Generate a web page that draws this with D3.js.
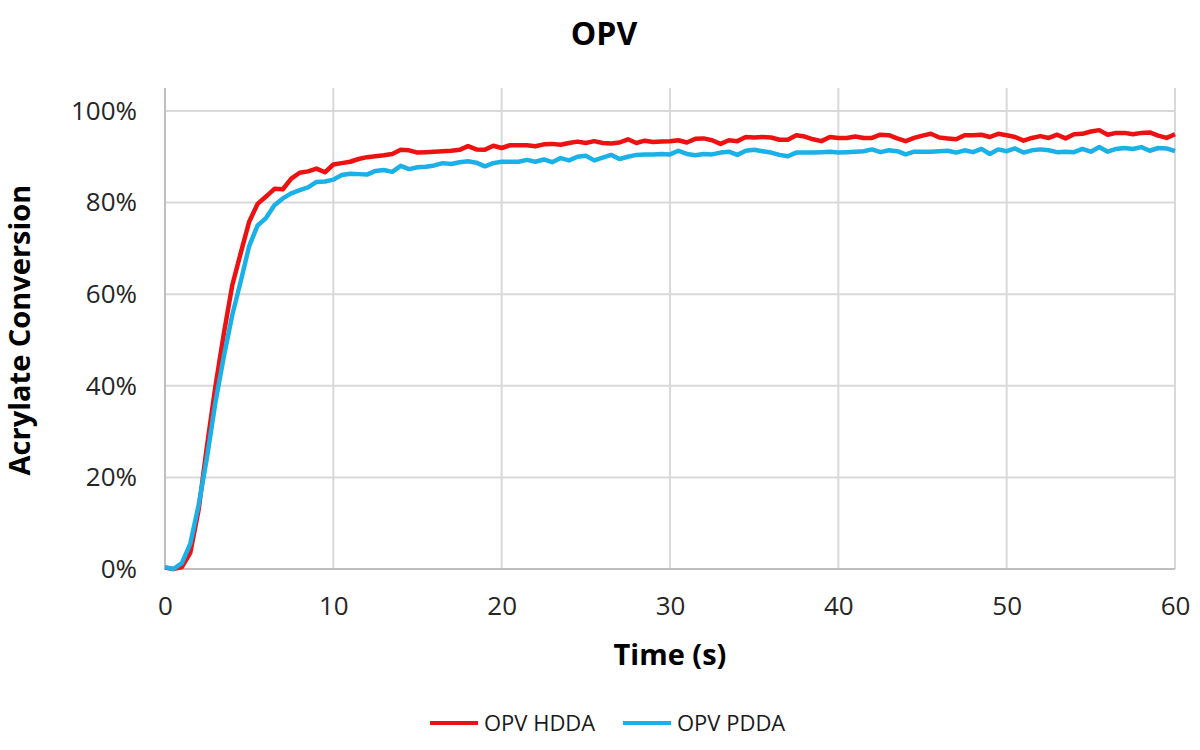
<!DOCTYPE html>
<html>
<head>
<meta charset="utf-8">
<script src="https://cdn.jsdelivr.net/npm/d3@7/dist/d3.min.js"></script>
<style>
  html, body { margin: 0; padding: 0; background: #ffffff; }
  svg { display: block; font-family: "Open Sans", "Noto Sans", sans-serif; }
</style>
</head>
<body>
<svg id="chart" width="1200" height="750"></svg>
<script>
// ---- data ----
const chartTitle = "OPV";
const xTitle = "Time (s)";
const yTitle = "Acrylate Conversion";
const seriesNames = ["OPV HDDA", "OPV PDDA"];
const seriesColors = ["#ee1111", "#1ab0e8"];

const timeS = [
  0, 0.5, 1, 1.5, 2, 2.5, 3, 3.5, 4, 4.5,
  5, 5.5, 6, 6.5, 7, 7.5, 8, 8.5, 9, 9.5,
  10, 10.5, 11, 11.5, 12, 12.5, 13, 13.5, 14, 14.5,
  15, 15.5, 16, 16.5, 17, 17.5, 18, 18.5, 19, 19.5,
  20, 20.5, 21, 21.5, 22, 22.5, 23, 23.5, 24, 24.5,
  25, 25.5, 26, 26.5, 27, 27.5, 28, 28.5, 29, 29.5,
  30, 30.5, 31, 31.5, 32, 32.5, 33, 33.5, 34, 34.5,
  35, 35.5, 36, 36.5, 37, 37.5, 38, 38.5, 39, 39.5,
  40, 40.5, 41, 41.5, 42, 42.5, 43, 43.5, 44, 44.5,
  45, 45.5, 46, 46.5, 47, 47.5, 48, 48.5, 49, 49.5,
  50, 50.5, 51, 51.5, 52, 52.5, 53, 53.5, 54, 54.5,
  55, 55.5, 56, 56.5, 57, 57.5, 58, 58.5, 59, 59.5,
  60
];

// percent conversion
const hddaPct = [
  0.3, 0.0, 0.4, 3.5, 13.0, 27.0, 40.0, 51.5, 62.0, 69.0,
  75.8, 79.7, 81.3, 83.0, 82.9, 85.2, 86.5, 86.8, 87.4, 86.6,
  88.3, 88.6, 88.9, 89.5, 89.9, 90.1, 90.3, 90.6, 91.5, 91.4,
  90.9, 91.0, 91.1, 91.2, 91.3, 91.5, 92.3, 91.6, 91.5, 92.4,
  91.9, 92.5, 92.5, 92.5, 92.3, 92.7, 92.8, 92.6, 93.0, 93.3,
  93.0, 93.4, 93.0, 92.9, 93.1, 93.8, 93.0, 93.5, 93.2, 93.3,
  93.4, 93.6, 93.1, 93.9, 94.0, 93.6, 92.8, 93.6, 93.4, 94.3,
  94.2, 94.3, 94.2, 93.7, 93.7, 94.7, 94.4, 93.8, 93.4, 94.3,
  94.1, 94.1, 94.4, 94.1, 94.1, 94.8, 94.7, 94.0, 93.4, 94.1,
  94.6, 95.0, 94.2, 94.0, 93.8, 94.7, 94.7, 94.8, 94.3, 95.0,
  94.7, 94.3, 93.5, 94.1, 94.5, 94.1, 94.8, 94.0, 94.9, 95.0,
  95.5, 95.8, 94.8, 95.2, 95.2, 94.9, 95.2, 95.3, 94.6, 94.1,
  94.9
];

const pddaPct = [
  0.4, 0.0, 1.3, 5.5, 14.0, 24.5, 36.5, 46.5, 55.5, 62.8,
  70.5, 75.0, 76.6, 79.4, 80.9, 82.0, 82.7, 83.3, 84.5, 84.6,
  85.0, 86.0, 86.3, 86.2, 86.1, 86.9, 87.1, 86.7, 88.0, 87.3,
  87.7, 87.8, 88.1, 88.6, 88.4, 88.8, 89.0, 88.7, 87.9, 88.6,
  88.9, 88.9, 88.9, 89.3, 88.9, 89.4, 88.8, 89.7, 89.2, 90.0,
  90.2, 89.2, 89.8, 90.4, 89.5, 90.0, 90.4, 90.5, 90.5, 90.6,
  90.5, 91.3, 90.6, 90.3, 90.6, 90.5, 90.9, 91.1, 90.4, 91.3,
  91.5, 91.2, 90.9, 90.4, 90.1, 90.9, 90.9, 90.9, 91.0, 91.1,
  90.9, 91.0, 91.1, 91.2, 91.6, 91.0, 91.4, 91.2, 90.5, 91.1,
  91.1, 91.1, 91.2, 91.3, 90.9, 91.4, 91.0, 91.7, 90.6, 91.6,
  91.2, 91.8, 90.9, 91.4, 91.6, 91.4, 91.0, 91.1, 91.0, 91.7,
  91.1, 92.1, 91.1, 91.7, 91.9, 91.7, 92.1, 91.3, 91.9, 91.8,
  91.2
];

const xTicks = [0, 10, 20, 30, 40, 50, 60];
const yTicks = [0, 0.2, 0.4, 0.6, 0.8, 1.0];

// ---- layout ----
const svg = d3.select("#chart");
const plot = { left: 165, right: 1175, top: 88, bottom: 569 };

const x = d3.scaleLinear().domain([0, 60]).range([plot.left, plot.right]);
const y = d3.scaleLinear().domain([0, 1.05]).range([plot.bottom, plot.top]);

// gridlines
const grid = svg.append("g");
grid.selectAll("line.h").data(yTicks.filter(d => d > 0)).join("line")
  .attr("x1", plot.left).attr("x2", plot.right)
  .attr("y1", d => y(d)).attr("y2", d => y(d))
  .attr("stroke", "#d9d9d9").attr("stroke-width", 2);
grid.selectAll("line.v").data(xTicks.filter(d => d > 0)).join("line")
  .attr("x1", d => x(d)).attr("x2", d => x(d))
  .attr("y1", plot.top).attr("y2", plot.bottom)
  .attr("stroke", "#d9d9d9").attr("stroke-width", 2);

// axes
const yAxis = svg.append("g")
  .attr("transform", `translate(${plot.left},0)`)
  .call(d3.axisLeft(y).tickValues(yTicks).tickFormat(d3.format(".0%")).tickSize(0).tickPadding(28));
yAxis.select(".domain").remove();
yAxis.selectAll("text").attr("font-size", 26).attr("fill", "#262626")
  .attr("font-family", "'Open Sans', sans-serif");

const xAxis = svg.append("g")
  .attr("transform", `translate(0,${plot.bottom})`)
  .call(d3.axisBottom(x).tickValues(xTicks).tickFormat(d3.format("d")).tickSize(0).tickPadding(28));
xAxis.select(".domain").remove();
xAxis.selectAll("text").attr("font-size", 26).attr("fill", "#262626")
  .attr("font-family", "'Open Sans', sans-serif");

// axis lines
svg.append("line").attr("x1", plot.left).attr("x2", plot.left)
  .attr("y1", plot.top).attr("y2", plot.bottom)
  .attr("stroke", "#bfbfbf").attr("stroke-width", 2);
svg.append("line").attr("x1", plot.left).attr("x2", plot.right)
  .attr("y1", plot.bottom).attr("y2", plot.bottom)
  .attr("stroke", "#bfbfbf").attr("stroke-width", 2);

// series
const series = [hddaPct, pddaPct];
const line = d3.line()
  .x((d, i) => x(timeS[i]))
  .y(d => y(d / 100))
  .curve(d3.curveLinear);

[0, 1].forEach(k => {
  svg.append("path")
    .datum(series[k])
    .attr("d", line)
    .attr("fill", "none")
    .attr("stroke", seriesColors[k])
    .attr("stroke-width", 4.5)
    .attr("stroke-linejoin", "round");
});

// titles
svg.append("text").attr("x", 604).attr("y", 45)
  .attr("text-anchor", "middle").attr("font-size", 32).attr("font-weight", 700)
  .attr("fill", "#000").text(chartTitle);

svg.append("text").attr("x", 670).attr("y", 665)
  .attr("text-anchor", "middle").attr("font-size", 29).attr("font-weight", 700)
  .attr("fill", "#000").text(xTitle);

svg.append("text")
  .attr("transform", "translate(30,330) rotate(-90)")
  .attr("text-anchor", "middle").attr("font-size", 29).attr("font-weight", 700)
  .attr("fill", "#000").text(yTitle);

// legend
const legendItems = [
  { name: seriesNames[0], color: seriesColors[0], x0: 430 },
  { name: seriesNames[1], color: seriesColors[1], x0: 623 }
];
const lg = svg.append("g");
legendItems.forEach(it => {
  lg.append("line").attr("x1", it.x0).attr("x2", it.x0 + 48)
    .attr("y1", 723).attr("y2", 723)
    .attr("stroke", it.color).attr("stroke-width", 4);
  lg.append("text").attr("x", it.x0 + 54).attr("y", 731)
    .attr("font-size", 22).attr("fill", "#1a1a1a").text(it.name);
});
</script>
</body>
</html>
